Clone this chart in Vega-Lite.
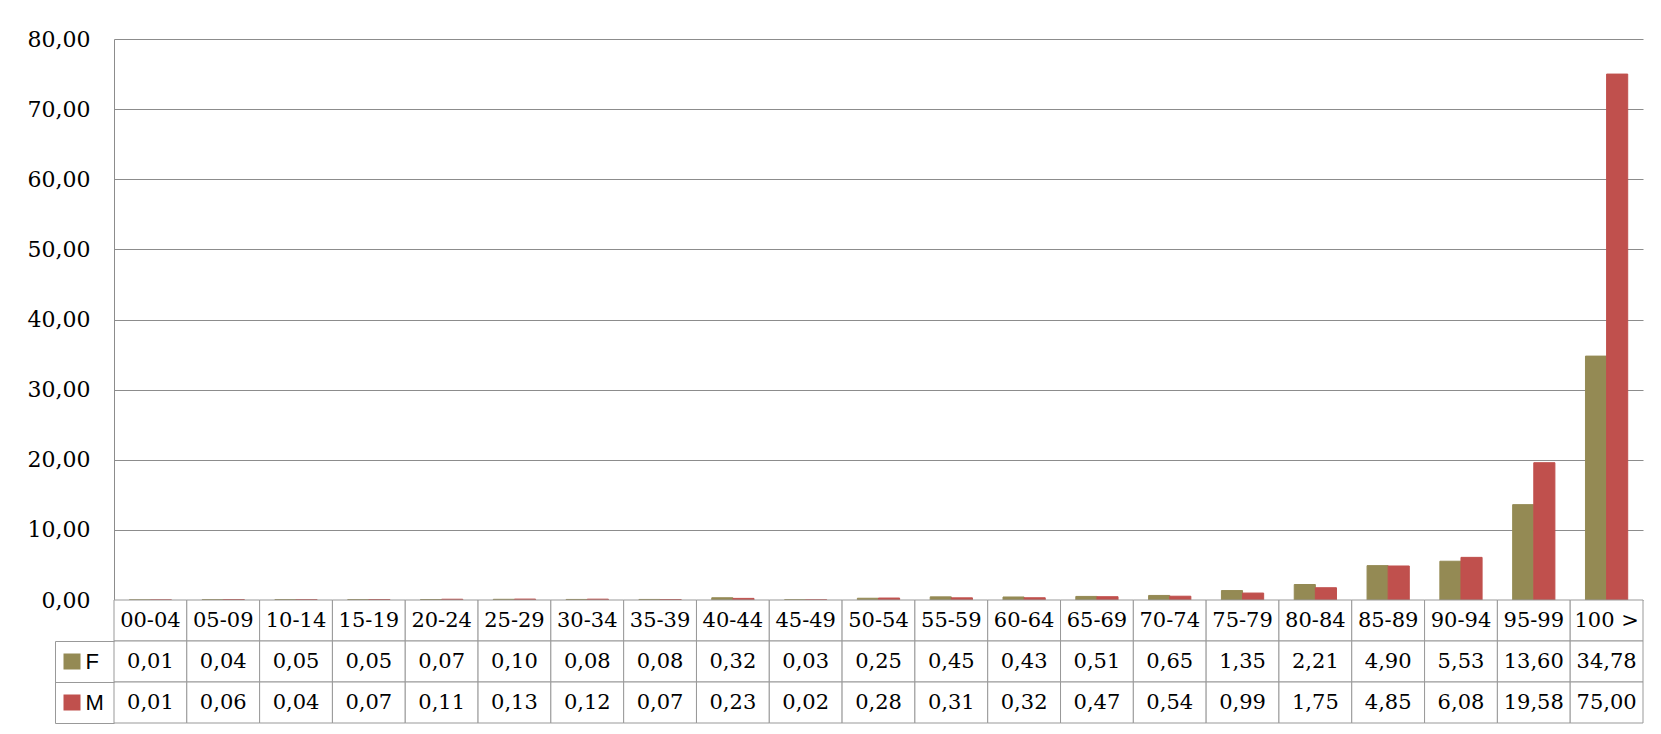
{
  "$schema": "https://vega.github.io/schema/vega-lite/v6.json",
  "background": "white",
  "padding": {"left": 27, "top": 28, "right": 18, "bottom": 11},
  "datasets": {
    "rates": [
      {"age": "00-04", "F": 0.01, "M": 0.01},
      {"age": "05-09", "F": 0.04, "M": 0.06},
      {"age": "10-14", "F": 0.05, "M": 0.04},
      {"age": "15-19", "F": 0.05, "M": 0.07},
      {"age": "20-24", "F": 0.07, "M": 0.11},
      {"age": "25-29", "F": 0.10, "M": 0.13},
      {"age": "30-34", "F": 0.08, "M": 0.12},
      {"age": "35-39", "F": 0.08, "M": 0.07},
      {"age": "40-44", "F": 0.32, "M": 0.23},
      {"age": "45-49", "F": 0.03, "M": 0.02},
      {"age": "50-54", "F": 0.25, "M": 0.28},
      {"age": "55-59", "F": 0.45, "M": 0.31},
      {"age": "60-64", "F": 0.43, "M": 0.32},
      {"age": "65-69", "F": 0.51, "M": 0.47},
      {"age": "70-74", "F": 0.65, "M": 0.54},
      {"age": "75-79", "F": 1.35, "M": 0.99},
      {"age": "80-84", "F": 2.21, "M": 1.75},
      {"age": "85-89", "F": 4.90, "M": 4.85},
      {"age": "90-94", "F": 5.53, "M": 6.08},
      {"age": "95-99", "F": 13.60, "M": 19.58},
      {"age": "100 >", "F": 34.78, "M": 75.00}
    ]
  },
  "spacing": 0,
  "bounds": "flush",
  "resolve": {"scale": {"x": "independent", "y": "independent", "color": "independent"}},
  "vconcat": [
    {
      "width": 1529,
      "height": 561,
      "data": {"name": "rates"},
      "transform": [{"fold": ["F", "M"], "as": ["sex", "value"]}],
      "mark": {"type": "bar", "strokeWidth": 1},
      "encoding": {
        "x": {"field": "age", "type": "nominal", "sort": null, "axis": null,
              "scale": {"paddingInner": 0.42, "paddingOuter": 0.21}},
        "xOffset": {"field": "sex", "type": "nominal", "sort": ["F", "M"],
                    "scale": {"paddingInner": 0, "paddingOuter": 0}},
        "y": {"field": "value", "type": "quantitative",
              "scale": {"domain": [0, 80], "nice": false},
              "axis": {"title": null, "values": [0, 10, 20, 30, 40, 50, 60, 70, 80],
                       "format": ".2f", "ticks": false, "labelPadding": 24,
                       "labelFont": "DejaVu Serif", "labelFontSize": 22, "labelColor": "#000000",
                       "domain": true, "domainColor": "#8c8c8c", "domainWidth": 1,
                       "grid": true, "gridColor": "#8c8c8c", "gridWidth": 1, "gridOpacity": 1}},
        "color": {"field": "sex", "type": "nominal",
                  "scale": {"domain": ["F", "M"], "range": ["#948A54", "#C0504D"]},
                  "legend": null},
        "stroke": {"field": "sex", "type": "nominal",
                   "scale": {"domain": ["F", "M"], "range": ["#948A54", "#C0504D"]},
                   "legend": null}
      }
    },
    {
      "width": 1529,
      "height": 123,
      "data": {"name": "rates"},
      "resolve": {"axis": {"y": "independent"}},
      "layer": [
        {
          "mark": {"type": "rect", "fill": "white", "stroke": "#999999", "strokeWidth": 1},
          "encoding": {
            "x": {"field": "age", "type": "nominal", "sort": null, "axis": null,
                  "scale": {"paddingInner": 0, "paddingOuter": 0}},
            "y": {"datum": "hdr", "type": "nominal",
                  "scale": {"domain": ["hdr", "F", "M"], "paddingInner": 0, "paddingOuter": 0},
                  "axis": {"orient": "left", "offset": 59, "title": null, "labels": false,
                           "domain": true, "domainColor": "#999999", "domainDash": [0, 41, 200],
                           "ticks": true, "tickSize": -59, "tickColor": "#999999", "tickWidth": 1,
                           "bandPosition": 1, "tickExtra": false, "grid": false}}
          }
        },
        {
          "mark": {"type": "text", "font": "DejaVu Serif", "fontSize": 21, "color": "#000000"},
          "encoding": {
            "x": {"field": "age", "type": "nominal", "sort": null, "axis": null},
            "y": {"datum": "hdr", "type": "nominal", "axis": null},
            "text": {"field": "age"}
          }
        },
        {
          "transform": [{"fold": ["F", "M"], "as": ["sex", "value"]}],
          "mark": {"type": "rect", "fill": "white", "stroke": "#999999", "strokeWidth": 1},
          "encoding": {
            "x": {"field": "age", "type": "nominal", "sort": null, "axis": null},
            "y": {"field": "sex", "type": "nominal",
                  "axis": {"orient": "left", "offset": 0, "title": null, "domain": false, "grid": false,
                           "ticks": true, "tickSize": 51, "tickWidth": 16,
                           "tickDash": {"condition": {"test": "datum.value === 'hdr'", "value": [0, 1000]}, "value": [0, 34, 17, 1000]},
                           "tickColor": {"condition": {"test": "datum.value === 'F'", "value": "#948A54"}, "value": "#C0504D"},
                           "labelExpr": "datum.value === 'hdr' ? '' : datum.value",
                           "labelAlign": "left", "labelPadding": -22,
                           "labelFont": "Liberation Sans", "labelFontSize": 22, "labelColor": "#000000"}}
          }
        },
        {
          "transform": [{"fold": ["F", "M"], "as": ["sex", "value"]}],
          "mark": {"type": "text", "font": "DejaVu Serif", "fontSize": 21, "color": "#000000"},
          "encoding": {
            "x": {"field": "age", "type": "nominal", "sort": null, "axis": null},
            "y": {"field": "sex", "type": "nominal", "axis": null},
            "text": {"field": "value", "type": "quantitative", "format": ".2f"}
          }
        }
      ]
    }
  ],
  "config": {
    "locale": {"number": {"decimal": ",", "thousands": ".", "grouping": [3], "currency": ["", " €"]}},
    "view": {"stroke": null}
  }
}
